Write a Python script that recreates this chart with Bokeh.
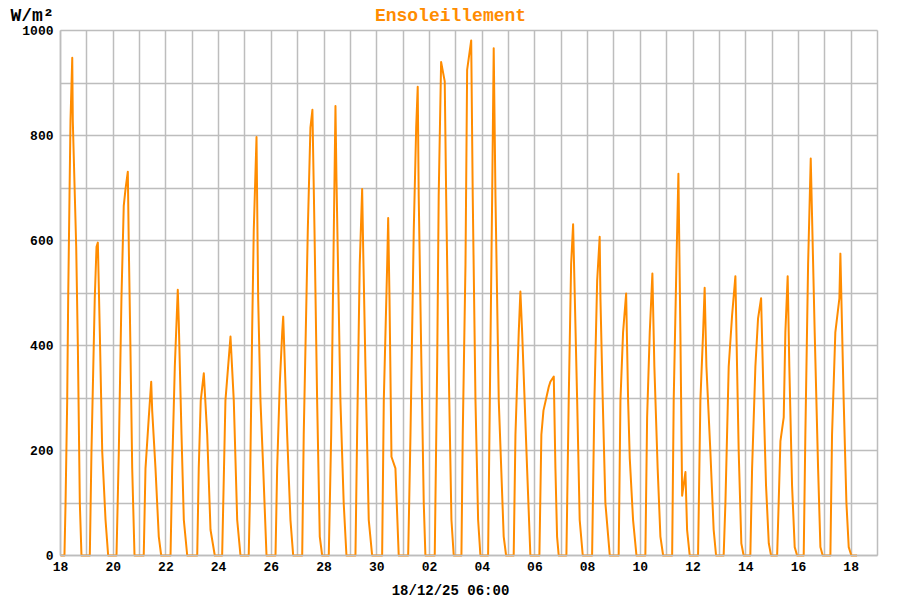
from bokeh.plotting import figure
from bokeh.models import Range1d, FixedTicker, Label
from bokeh.embed import file_html
from bokeh.resources import INLINE

# Hours since 18/11/25 00:00 and global irradiance (W/m²)
hours = [
    0.0,
    3.6, 4.6, 6.1, 7.0, 8.2, 9.1, 10.7, 11.2, 14.3, 15.8, 17.6, 19.1,            # 18 nov
    26.7, 28.2, 31.2, 32.8, 34.0, 35.8, 38.0, 41.0, 43.4,                        # 19
    51.0, 53.1, 55.5, 57.6, 59.2, 61.3, 62.2, 63.7, 65.3, 67.4,                  # 20
    75.8, 77.4, 80.4, 82.6, 83.5, 86.5, 89.5, 91.7,                              # 21
    100.2, 101.7, 104.1, 106.8, 107.7, 110.2, 112.3, 115.4,                      # 22
    124.5, 125.9, 127.7, 130.5, 133.6, 136.6, 140.5,                             # 23
    147.2, 150.2, 154.8, 157.8, 160.9, 163.9,                                    # 24
    171.4, 172.4, 174.5, 176.0, 178.5, 180.0, 182.1, 184.6, 187.6,               # 25
    195.8, 197.3, 199.7, 201.9, 202.8, 206.4, 209.4, 211.9,                      # 26
    220.1, 221.5, 225.2, 227.6, 229.4, 231.3, 233.7, 236.1, 238.3,               # 27
    244.3, 246.5, 248.9, 250.4, 251.3, 254.9, 257.9, 260.4,                      # 28
    268.6, 270.1, 272.5, 274.7, 275.6, 277.7, 280.7, 283.8,                      # 29
    292.9, 294.4, 297.5, 298.4, 299.6, 301.4, 305.0, 308.0,                      # 30
    316.6, 318.7, 321.7, 323.9, 325.3, 326.2, 328.7, 330.8, 332.3,               # 01 dec
    340.8, 343.0, 344.4, 346.6, 349.9, 351.2, 353.5, 356.0, 358.1,               # 02
    365.1, 366.3, 368.8, 370.3, 374.0, 375.4, 377.9, 380.3, 382.4,               # 03
    389.4, 390.6, 393.1, 394.5, 396.1, 399.1, 403.6, 405.8,                      # 04
    412.7, 414.3, 417.3, 418.8, 420.4, 424.9, 427.9,                             # 05
    436.1, 437.9, 439.8, 444.6, 446.1, 449.2, 450.7, 452.2, 453.7,               # 06
    460.7, 462.8, 465.0, 466.8, 468.0, 470.5, 472.8, 475.6,                      # 07
    484.1, 486.2, 488.7, 491.0, 491.7, 493.8, 496.2, 500.2,                      # 08
    508.3, 509.9, 512.3, 515.1, 516.9, 518.4, 521.4, 524.5,                      # 09
    532.6, 534.2, 536.6, 539.0, 540.8, 543.8, 546.3, 548.8,                      # 10
    557.0, 558.4, 560.9, 562.7, 564.5, 566.1, 569.1, 570.6, 573.0,               # 11
    580.6, 582.7, 585.2, 586.6, 588.2, 591.8, 594.8, 597.0,                      # 12
    603.9, 605.5, 608.5, 611.6, 614.6, 616.1, 617.6, 620.0, 622.1,               # 13
    628.2, 629.8, 632.8, 635.2, 638.0, 640.3, 642.5, 645.0, 647.1,               # 14
    652.6, 654.0, 655.6, 658.6, 660.1, 662.2, 663.7, 666.2, 668.6, 670.8,        # 15
    676.8, 678.3, 680.8, 683.2, 684.4, 686.8, 689.9, 692.0, 694.1,               # 16
    701.1, 702.6, 705.6, 709.3, 710.2, 713.2, 715.7, 717.8, 720.2,               # 17
    725.4,                                                                       # 18
]
irradiance = [
    0,
    0, 100, 295, 490, 685, 828, 948, 828, 588, 399, 100, 0,
    0, 198, 490, 588, 596, 425, 198, 68, 0,
    0, 198, 490, 666, 698, 731, 588, 393, 166, 0,
    0, 166, 263, 331, 276, 166, 36, 0,
    0, 166, 360, 506, 445, 230, 68, 0,
    0, 166, 295, 347, 230, 49, 0,
    0, 295, 417, 295, 68, 0,
    0, 100, 425, 620, 797, 490, 295, 166, 0,
    0, 166, 328, 425, 455, 230, 68, 0,
    0, 230, 620, 815, 849, 620, 295, 36, 0,
    0, 230, 620, 856, 718, 295, 100, 0,
    0, 230, 555, 698, 588, 360, 68, 0,
    0, 295, 555, 643, 490, 188, 166, 0,
    0, 230, 620, 815, 893, 685, 360, 100, 0,
    0, 360, 685, 940, 903, 685, 360, 68, 0,
    0, 230, 555, 925, 981, 685, 295, 68, 0,
    0, 230, 685, 966, 685, 295, 36, 0,
    0, 230, 425, 503, 425, 166, 0,
    0, 230, 276, 321, 331, 341, 166, 36, 0,
    0, 295, 555, 631, 523, 295, 68, 0,
    0, 295, 523, 607, 490, 295, 100, 0,
    0, 295, 425, 499, 295, 185, 68, 0,
    0, 263, 425, 537, 360, 166, 36, 0,
    0, 295, 555, 727, 425, 114, 159, 49, 0,
    0, 295, 425, 510, 360, 198, 49, 0,
    0, 100, 360, 458, 532, 360, 198, 23, 0,
    0, 166, 360, 451, 490, 295, 133, 23, 0,
    0, 100, 218, 263, 425, 532, 360, 133, 16, 0,
    0, 230, 555, 756, 646, 425, 166, 16, 0,
    0, 230, 425, 490, 575, 295, 100, 16, 0,
    0,
]

day_ticks = list(range(0, 31, 2))
tick_labels = ["18", "20", "22", "24", "26", "28", "30", "02", "04",
               "06", "08", "10", "12", "14", "16", "18"]
y_ticks = list(range(0, 1001, 200))
chart_title = "Ensoleillement"
unit_label = "W/m²"
footer = "18/12/25 06:00"

days = [h / 24.0 for h in hours]

ORANGE = "#ff8c00"
GRID = "#bdbdbd"
FONT = "Liberation Mono"

# canvas layout (pixels): plotting area 60..877 x 30..555 inside 900x600
W, H = 900, 600
L, R, T, B = 60, 877, 30, 555
XMIN, XMAX, YMIN, YMAX = 0, 31, 0, 1000
kx = (XMAX - XMIN) / (R - L)
ky = (YMAX - YMIN) / (B - T)
x_range = Range1d(XMIN - L * kx, XMAX + (W - R) * kx)
y_range = Range1d(YMIN - (H - B) * ky, YMAX + T * ky)

p = figure(width=W, height=H, output_backend="svg", toolbar_location=None,
           x_range=x_range, y_range=y_range,
           min_border_left=0, min_border_right=0, min_border_top=0,
           min_border_bottom=0)
p.title.visible = False
p.background_fill_color = "white"
p.border_fill_color = "white"
p.outline_line_color = None

# grid: one line per day, one per 100 W/m²
p.xgrid.ticker = FixedTicker(ticks=list(range(XMIN, XMAX + 1)))
p.ygrid.ticker = FixedTicker(ticks=list(range(YMIN, YMAX + 1, 100)))
p.xgrid.bounds = (XMIN, XMAX)
p.ygrid.bounds = (YMIN, YMAX)
p.xgrid.cross_bounds = (YMIN, YMAX)
p.ygrid.cross_bounds = (XMIN, XMAX)
for g in (p.xgrid, p.ygrid):
    g.grid_line_color = GRID
    g.grid_line_width = 1.5

p.line(days, irradiance, line_color=ORANGE, line_width=2, line_join="round")

p.xaxis.ticker = FixedTicker(ticks=day_ticks)
p.xaxis.major_label_overrides = {d: lab for d, lab in zip(day_ticks, tick_labels)}
p.yaxis.ticker = FixedTicker(ticks=y_ticks)
p.xaxis.fixed_location = YMIN
p.yaxis.fixed_location = XMIN
p.xaxis.bounds = (XMIN, XMAX)
p.yaxis.bounds = (YMIN, YMAX)
for ax in (p.xaxis, p.yaxis):
    ax.axis_line_color = GRID
    ax.axis_line_width = 1.5
    ax.major_tick_line_color = None
    ax.minor_tick_line_color = None
    ax.major_tick_out = 0
    ax.major_tick_in = 0
    ax.major_label_text_font = FONT
    ax.major_label_text_font_style = "bold"
    ax.major_label_text_font_size = "13px"
    ax.major_label_text_color = "black"
p.xaxis.major_label_standoff = 6
p.yaxis.major_label_standoff = 7

# texts, in screen pixels measured from the bottom-left of the canvas
p.add_layout(Label(x=450, y=H - 15, x_units="screen", y_units="screen", text=chart_title,
                   text_align="center", text_baseline="alphabetic",
                   text_font=FONT, text_font_style="bold",
                   text_font_size="18px", text_color=ORANGE))
p.add_layout(Label(x=10, y=H - 15, x_units="screen", y_units="screen", text=unit_label,
                   text_align="left", text_baseline="alphabetic",
                   text_font=FONT, text_font_style="bold",
                   text_font_size="18px", text_color="black"))
p.add_layout(Label(x=450, y=H - 590, x_units="screen", y_units="screen", text=footer,
                   text_align="center", text_baseline="alphabetic",
                   text_font=FONT, text_font_style="bold",
                   text_font_size="14px", text_color="black"))

open("out.html", "w").write(file_html(p, INLINE))
